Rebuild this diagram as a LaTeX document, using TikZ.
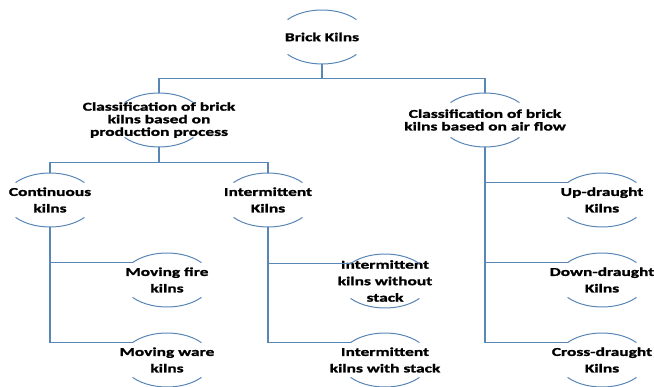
\documentclass[tikz,border=0pt]{standalone}
\usepackage{fontspec}
\newfontfamily\kfont{Carlito}[FakeStretch=1.45,FakeBold=1.6,UprightFont=*-Bold,BoldFont=*-Bold]
\usetikzlibrary{calc}
\definecolor{lineblue}{RGB}{88,134,182}
\begin{document}
\begin{tikzpicture}[x=1pt,y=1pt,
  kiln/.style={rectangle,inner sep=0pt,minimum height=54pt,align=center,
    font=\kfont\fontsize{12}{16.5}\selectfont,text=black},
  kilnt/.style={kiln,font=\kfont\fontsize{12}{12.6}\selectfont},
  arcline/.style={draw=lineblue,line width=1pt},
  conn/.style={draw=lineblue,line width=1.3pt}]
\useasboundingbox (0,0) rectangle (654,-387);
% nodes
\node[kilnt] (bk) at (322,-37) {Brick Kilns};
\node[kilnt] (cp) at (159,-120) {Classification of brick\\kilns based on\\production process};
\node[kilnt] (ca) at (485,-120) {Classification of brick\\kilns based on air flow};
\node[kiln] (ck) at (50,-200) {Continuous\\kilns};
\node[kiln] (ik) at (268,-200) {Intermittent\\Kilns};
\node[kiln] (mf) at (167,-280) {Moving fire\\kilns};
\node[kiln] (mw) at (167,-360) {Moving ware\\kilns};
\node[kiln] (iwo) at (385,-281) {Intermittent\\kilns without\\stack};
\node[kiln] (iws) at (385,-360) {Intermittent\\kilns with stack};
\node[kiln] (ud) at (602,-200) {Up-draught\\Kilns};
\node[kiln] (dd) at (602,-280) {Down-draught\\Kilns};
\node[kiln] (cd) at (602,-360) {Cross-draught\\Kilns};
% arcs (top and bottom of each circle)
\foreach \n in {bk,cp,ca,ck,ik,mf,mw,iwo,iws,ud,dd,cd}{
  \draw[arcline] ([shift={(40:45pt and 27pt)}]\n.center) arc[start angle=40,end angle=140,x radius=45pt,y radius=27pt];
  \draw[arcline] ([shift={(220:45pt and 27pt)}]\n.center) arc[start angle=220,end angle=320,x radius=45pt,y radius=27pt];
  \coordinate (\n-l) at ([shift={(140:45pt and 27pt)}]\n.center);
}
% connectors
\coordinate (j1) at ($(bk.south)+(0,-14)$);
\draw[conn] (bk.south) -- (j1) -| (cp.north);
\draw[conn] (j1) -| (ca.north);
\coordinate (j2) at ($(cp.south)+(0,-15)$);
\draw[conn] (cp.south) -- (j2) -| (ck.north);
\draw[conn] (j2) -| (ik.north);
\draw[conn] (ck.south) |- (mf-l);
\draw[conn] (ck.south) |- (mw-l);
\draw[conn] (ik.south) |- (iwo-l);
\draw[conn] (ik.south) |- (iws-l);
\draw[conn] (ca.south) |- (ud-l);
\draw[conn] (ca.south) |- (dd-l);
\draw[conn] (ca.south) |- (cd-l);
\end{tikzpicture}
\end{document}
